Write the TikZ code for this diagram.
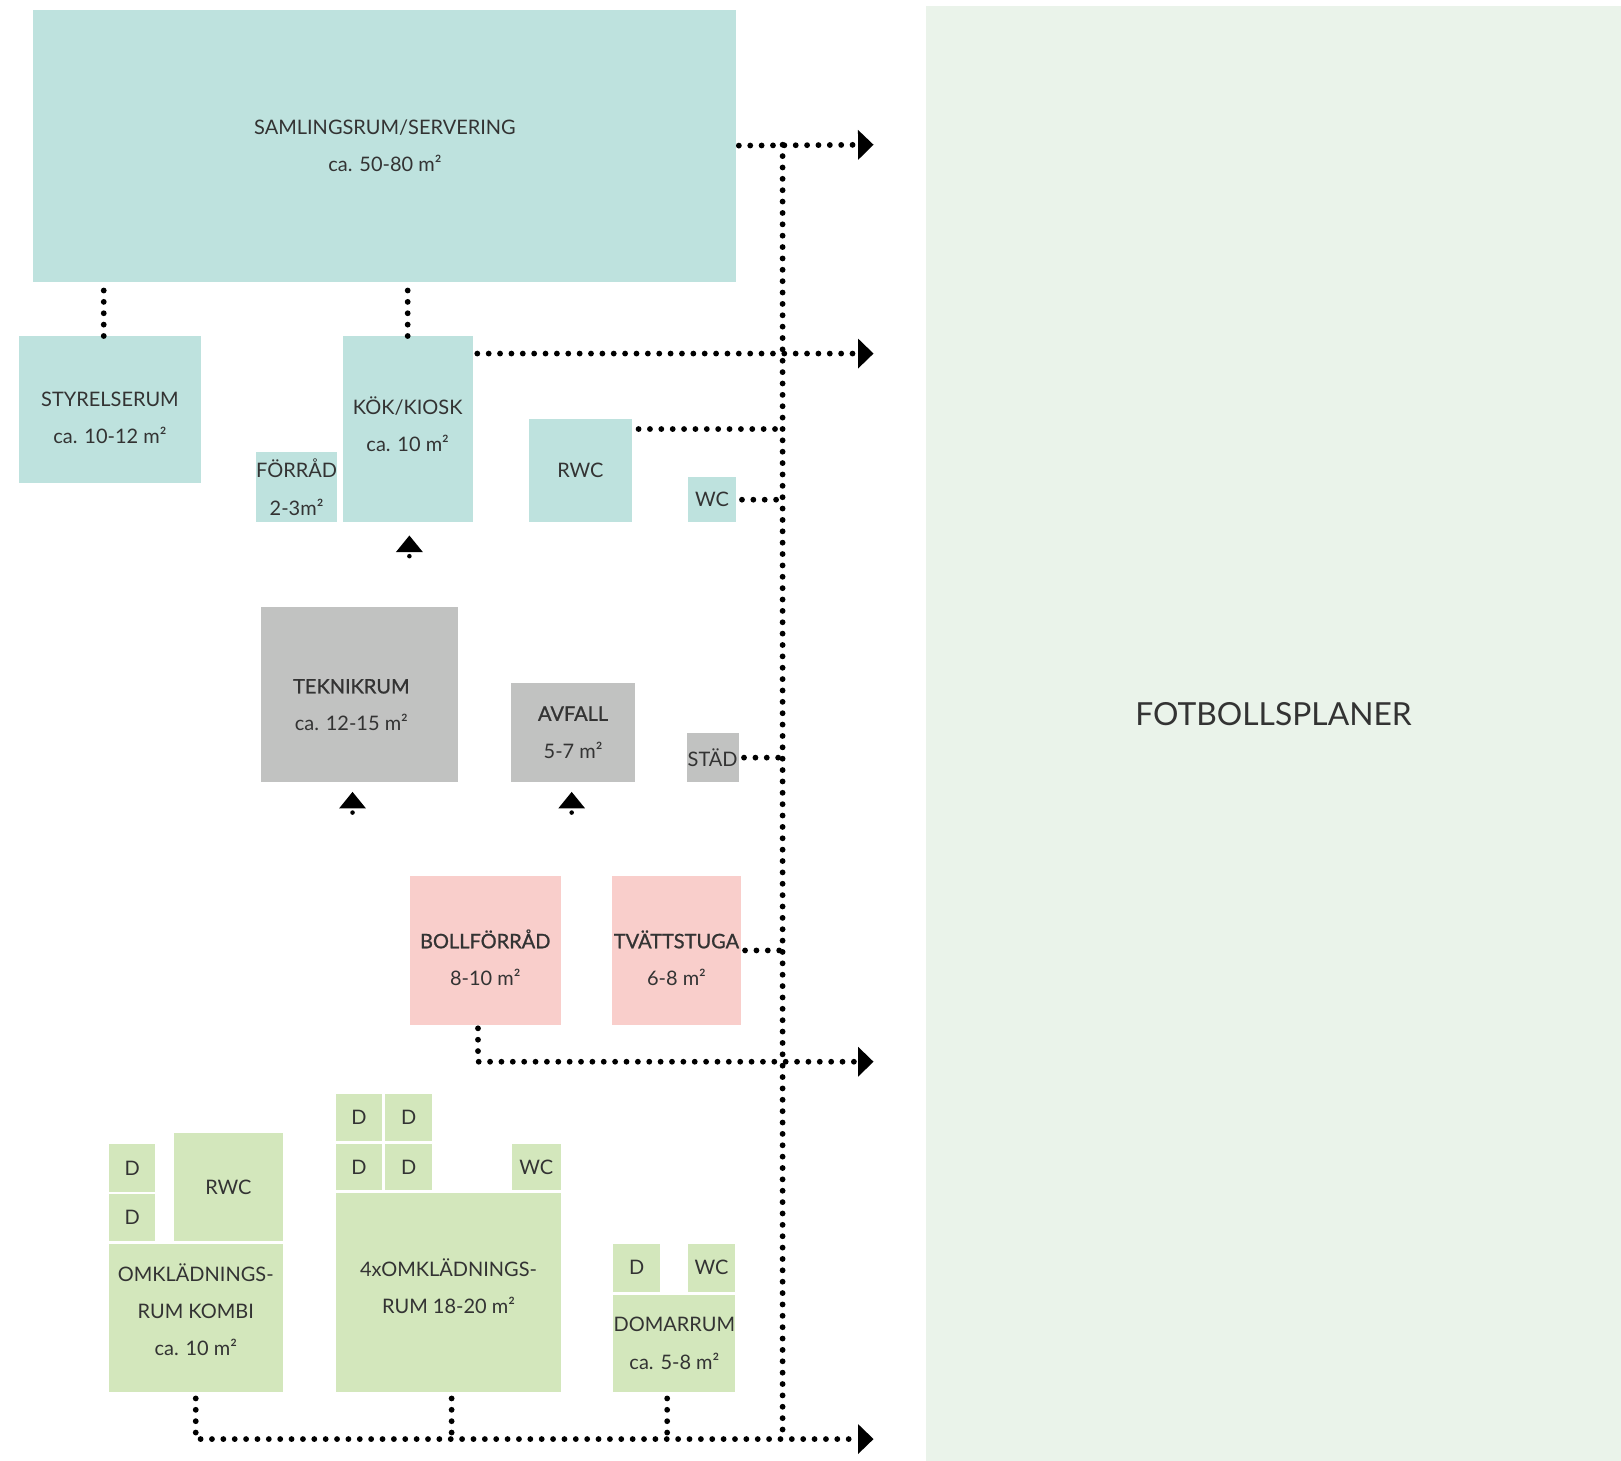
\documentclass[tikz,border=0pt]{standalone}
\usepackage{fontspec}
\setmainfont{Lato}
\newfontface\medium{Lato}[FakeBold=1]
\usetikzlibrary{arrows.meta}

\newdimen\px \px=0.02cm
\definecolor{kioskblue}{HTML}{BEE2DE}
\definecolor{techgray}{HTML}{C1C2C1}
\definecolor{storepink}{HTML}{F9CECB}
\definecolor{dressgreen}{HTML}{D3E7BC}
\definecolor{pitchgreen}{HTML}{EAF3EA}
\definecolor{ink}{HTML}{333333}

\begin{document}
\begin{tikzpicture}[x=0.02cm,y=-0.02cm,
    room/.style={rectangle,inner sep=0pt,anchor=north west,align=center,
        text=ink,font=\fontsize{11}{20.5}\selectfont},
    dim/.style 2 args={minimum width=#1\px,minimum height=#2\px},
    lower/.style={execute at begin node={\rule{0pt}{\dimexpr1cm+#1\px*2\relax}}},
    raise/.style={execute at end node={\rule[-\dimexpr#1\px*2\relax]{0pt}{0pt}}},
    nudgeleft/.style={execute at end node={\hspace*{\dimexpr#1\px*2\relax}}},
    blueroom/.style={room,fill=kioskblue},
    grayroom/.style={room,fill=techgray},
    pinkroom/.style={room,fill=storepink},
    greenroom/.style={room,fill=dressgreen},
    link/.style={line width=3.2pt,line cap=round,dash pattern=on 0pt off 0.22cm},
    flow/.style={link,-{Triangle[length=0.3cm,width=0.56cm]}},
    entry/.pic={\fill (-13,8) -- (13,8) -- (0,-8) -- cycle;
        \fill (0,12) circle (2.2);}]
\useasboundingbox (0,0) rectangle (1568,1413);

% field
\node[rectangle,inner sep=0pt,anchor=north west,fill=pitchgreen,text=ink,dim={673}{1408},
    font=\fontsize{17.5}{20}\selectfont,raise=19] (plan) at (895,5) {FOTBOLLSPLANER};

% upper floor
\node[blueroom,dim={680}{263}] (saml) at (32,9) {SAMLINGSRUM/SERVERING\\ca. 50-80 m²};
\node[blueroom,dim={176}{142},lower=8] (styr) at (18,325) {STYRELSERUM\\ca. 10-12 m²};
\node[blueroom,dim={126}{180},raise=5] (kok) at (331,325) {KÖK/KIOSK\\ca. 10 m²};
\node[blueroom,dim={79}{68}] (forrad) at (247,437) {FÖRRÅD\\2-3m²};
\node[blueroom,dim={100}{100}] (rwc) at (511,405) {RWC};
\node[blueroom,dim={47}{44}] (wc) at (665,461) {WC};

% service
\node[grayroom,dim={191}{169},lower=10,nudgeleft=8] (tekn) at (252,587) {{\medium TEKNIKRUM}\\ca. 12-15 m²};
\node[grayroom,dim={120}{96}] (avf) at (494,660) {{\medium AVFALL}\\5-7 m²};
\node[grayroom,dim={50}{47}] (stad) at (664,709) {STÄD};

\node[pinkroom,dim={146}{144},lower=9] (boll) at (396,847) {{\medium BOLLFÖRRÅD}\\8-10 m²};
\node[pinkroom,dim={124}{144},lower=9] (tvatt) at (592,847) {{\medium TVÄTTSTUGA}\\6-8 m²};

% changing rooms
\node[greenroom,dim={45}{47}] (kd1) at (105,1106) {D};
\node[greenroom,dim={45}{45}] (kd2) at (105,1155) {D};
\node[greenroom,dim={105}{104}] (krwc) at (168,1096) {RWC};
\node[greenroom,dim={168}{143},raise=8] (kombi) at (105,1203) {OMKLÄDNINGS-\\RUM KOMBI\\ca. 10 m²};

\node[greenroom,dim={44}{45}] (od1) at (325,1058) {D};
\node[greenroom,dim={46}{45}] (od2) at (372,1058) {D};
\node[greenroom,dim={44}{45}] (od3) at (325,1106) {D};
\node[greenroom,dim={46}{45}] (od4) at (372,1106) {D};
\node[greenroom,dim={47}{45}] (owc) at (495,1106) {WC};
\node[greenroom,dim={217}{192},raise=6] (omkl) at (325,1154) {4xOMKLÄDNINGS-\\RUM 18-20 m²};

\node[greenroom,dim={45}{46}] (dd) at (593,1203) {D};
\node[greenroom,dim={46}{46}] (dwc) at (665,1203) {WC};
\node[greenroom,dim={118}{94}] (dom) at (593,1252) {DOMARRUM\\ca. 5-8 m²};

% entrances
\pic at (396,526) {entry};
\pic at (341,774) {entry};
\pic at (553,774) {entry};

% corridor
\coordinate (t1) at (757,140);
\coordinate (t2) at (757,1392);
\coordinate (o1) at (845,140);
\coordinate (o2) at (845,342);
\coordinate (o3) at (845,1027);
\coordinate (o4) at (845,1392);

\draw[link] (t1) -- (t2);
\draw[flow] ([xshift=2\px]saml.east) -- (o1);
\draw[link] ([xshift=-6\px]styr.north) -- ([xshift=-6\px]styr.north |- saml.south);
\draw[link] (kok.north) -- (kok.north |- saml.south);
\draw[flow] ([xshift=4\px,yshift=-17\px]kok.north east) -- (o2);
\draw[link] ([xshift=6\px,yshift=-10\px]rwc.north east) -- (t1 |- 0,415);
\draw[link] ([xshift=5\px]wc.east) -- (wc.east -| t1);
\draw[link] ([xshift=5\px]stad.east) -- (stad.east -| t1);
\draw[link] ([xshift=4\px]tvatt.east) -- (tvatt.east -| t1);
\draw[flow] ([xshift=-7\px,yshift=-3\px]boll.south) |- (o3);

\draw[flow] ([yshift=-6\px]kombi.south) |- (o4);
\draw[link] ([xshift=3\px,yshift=-6\px]omkl.south) -- ([xshift=3\px]omkl.south |- o4);
\draw[link] ([xshift=-7\px,yshift=-6\px]dom.south) -- ([xshift=-7\px]dom.south |- o4);

\end{tikzpicture}
\end{document}
